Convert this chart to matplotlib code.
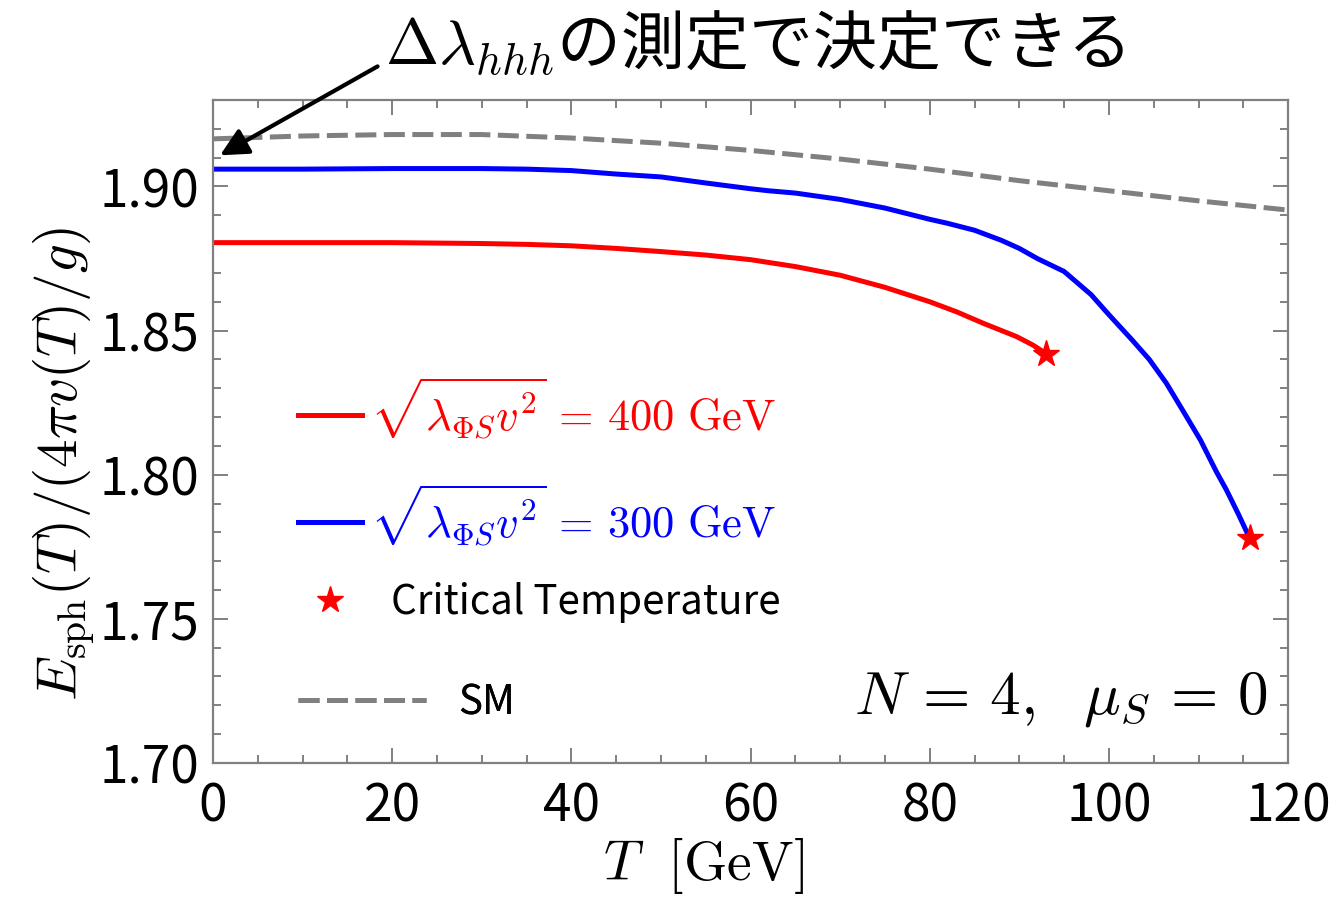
import matplotlib
matplotlib.use("Agg")
import matplotlib.pyplot as plt
import numpy as np

plt.rcParams['font.family'] = ['Noto Sans CJK JP', 'DejaVu Sans']
plt.rcParams['mathtext.fontset'] = 'cm'

# dados
T_sm = [0, 10, 20, 30, 40, 50, 60, 70, 80, 90, 100, 110, 120]
E_sm = [1.9165, 1.9175, 1.918, 1.918, 1.9168, 1.915, 1.9125, 1.9095, 1.906, 1.902, 1.8985, 1.895, 1.8918]

T_400 = [0, 10, 20, 30, 35, 40, 45, 50, 55, 60, 65, 70, 75, 78, 80, 83, 86, 89.7, 91.5, 93]
E_400 = [1.8805, 1.8805, 1.8805, 1.8802, 1.8799, 1.8794, 1.8785, 1.8774, 1.8762, 1.8746, 1.8722, 1.8692,
         1.865, 1.862, 1.860, 1.8565, 1.8525, 1.8479, 1.845, 1.842]

T_300 = [0, 10, 20, 30, 35, 40, 45, 50, 55, 60, 62, 65, 70, 75, 80, 82, 85, 88, 90, 92, 95, 98, 100,
         102.6, 104.5, 106.4, 108.3, 110.2, 112, 113.1, 114.5, 115.7]
E_300 = [1.906, 1.906, 1.9062, 1.9062, 1.906, 1.9055, 1.9043, 1.9033, 1.9012, 1.8992, 1.8985, 1.8977,
         1.8955, 1.8925, 1.8886, 1.8872, 1.8848, 1.8813, 1.8785, 1.875, 1.8705, 1.8625, 1.8555,
         1.8467, 1.840, 1.8318, 1.822, 1.8121, 1.801, 1.7948, 1.786, 1.778]

Tc = [93.0, 115.7]
Ec = [1.842, 1.778]

fig = plt.figure(figsize=(13.39, 9.07), dpi=100)
ax = fig.add_axes([0.159, 0.1588, 0.803, 0.731])

l1, = ax.plot(T_400, E_400, color='red', lw=3.6)
l2, = ax.plot(T_300, E_300, color='blue', lw=3.6)
l3, = ax.plot(Tc, Ec, ls='none', marker='*', color='red', ms=20)
l4, = ax.plot(T_sm, E_sm, color='#808080', lw=3.6, ls=(0, (4.2, 1.5)))

ax.set_xlim(0, 120)
ax.set_ylim(1.70, 1.93)
ax.set_xticks(np.arange(0, 121, 20))
ax.set_xticks(np.arange(0, 121, 5), minor=True)
ax.set_yticks(np.arange(1.70, 1.91, 0.05))
ax.set_yticks(np.arange(1.70, 1.931, 0.01), minor=True)
ax.set_yticklabels(['1.70', '1.75', '1.80', '1.85', '1.90'])
ax.tick_params(which='both', direction='in', top=True, right=True, color='#808080', labelsize=37, width=1.4)
ax.tick_params(which='major', length=11)
ax.tick_params(which='minor', length=6)
ax.tick_params(axis='x', pad=12)
ax.tick_params(axis='y', pad=10)
for s in ax.spines.values():
    s.set_color('#808080')
    s.set_linewidth(1.6)

ax.set_xlabel(r'$T\ \ [\mathrm{GeV}]$', fontsize=40)
ax.xaxis.set_label_coords(0.456, -0.11)
ax.set_ylabel(r'$E_{\rm sph}(T)/(4\pi v(T)/g)$', fontsize=41)
ax.yaxis.set_label_coords(-0.108, 0.45)

# legendas separadas (cada uma com seu tamanho de amostra)
entradas = [
    (l1, r'$\sqrt{\lambda_{\Phi S} v^2}\,=\,400\ \mathrm{GeV}$', 'red', 32, 1.44, 0.18, 0.5354),
    (l2, r'$\sqrt{\lambda_{\Phi S} v^2}\,=\,300\ \mathrm{GeV}$', 'blue', 32, 1.44, 0.18, 0.3741),
    (l3, 'Critical Temperature', 'black', 29, 1.59, 0.72, 0.2414),
    (l4, 'SM', 'black', 29, 3.17, 0.82, 0.0905),
]
for h, lab, cor, fs, hl, pad, yy in entradas:
    leg = ax.legend([h], [lab], loc='center left', bbox_to_anchor=(0.079, yy), frameon=False,
                    fontsize=fs, handlelength=hl, handletextpad=pad, borderpad=0, borderaxespad=0)
    leg.get_texts()[0].set_color(cor)
    ax.add_artist(leg)

ax.text(0.981, 0.075, r'$N\,=\,4,\ \ \mu_S\,=\,0$', transform=ax.transAxes, ha='right', va='baseline', fontsize=44)

ax.annotate(r'$\Delta\lambda_{hhh}$の測定で決定できる', xy=(0.8, 1.9108), xycoords='data',
            xytext=(0.2875, 0.95), textcoords='figure fraction', fontsize=46, va='center', ha='left',
            arrowprops=dict(arrowstyle='-|>', color='black', lw=3, mutation_scale=42,
                            shrinkA=0, shrinkB=0, relpos=(-0.01, 0.2)))

plt.savefig('out.png', dpi=100)
